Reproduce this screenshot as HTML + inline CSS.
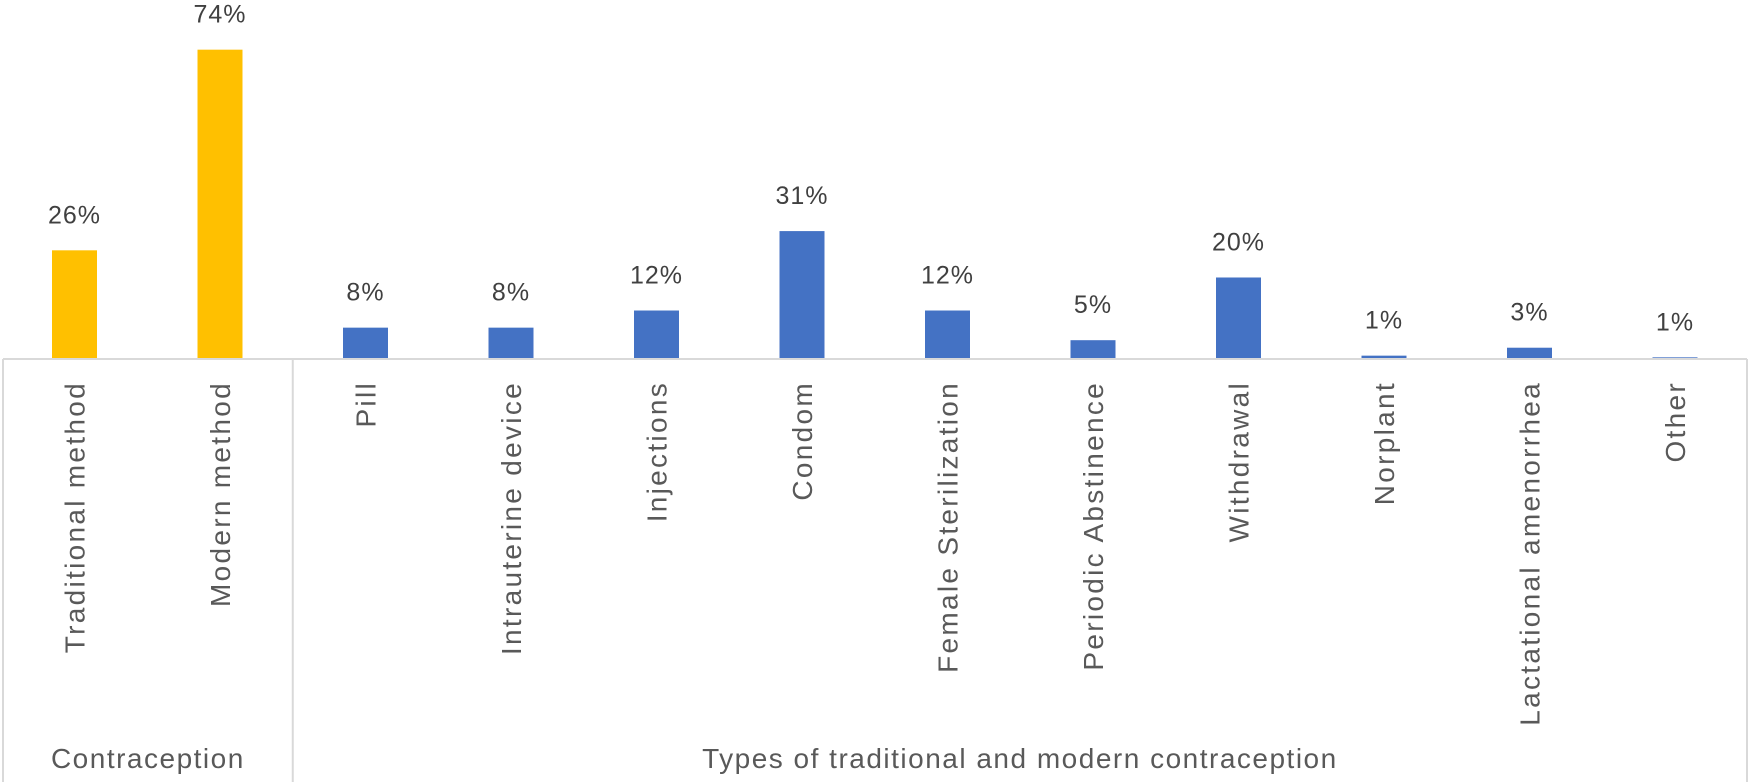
<!DOCTYPE html>
<html><head><meta charset="utf-8"><style>
html,body{margin:0;padding:0;background:#fff;}
svg{display:block;font-family:"Liberation Sans",sans-serif;}
</style></head><body>
<svg id="chart" width="1750" height="782" viewBox="0 0 1750 782" xmlns="http://www.w3.org/2000/svg"></svg>
<script>
const categories = ["Traditional method","Modern method","Pill","Intrauterine device","Injections","Condom","Female Sterilization","Periodic Abstinence","Withdrawal","Norplant","Lactational amenorrhea","Other"];
const values = [26,74,7.5,7.5,11.6,30.6,11.6,4.5,19.5,0.8,2.7,0.4];
const valueLabels = ["26%","74%","8%","8%","12%","31%","12%","5%","20%","1%","3%","1%"];
const groupNames = ["Contraception","Types of traditional and modern contraception"];
const groupSizes = [2,10];

const NS="http://www.w3.org/2000/svg";
const svg=document.getElementById('chart');
const axisY=359, pxPerUnit=4.18, x0=74.5, step=145.5, barW=45;
function xC(i){return x0+i*step;}
function yV(v){return axisY-v*pxPerUnit;}
function mk(tag,attrs,text){const e=document.createElementNS(NS,tag);for(const k in attrs)e.setAttribute(k,attrs[k]);if(text!==undefined)e.textContent=text;svg.appendChild(e);return e;}

categories.forEach((c,i)=>{
  const top=yV(values[i]);
  const r=mk('rect',{x:xC(i)-barW/2,y:top,width:barW,height:axisY-top,fill:i<2?'#FFC000':'#4472C4'});
  
  
  const t=mk('text',{x:xC(i),y:top-27,'text-anchor':'middle','font-size':25,'letter-spacing':1,fill:'#404040'},valueLabels[i]);
  
  
  const l=mk('text',{x:0,y:0,'text-anchor':'end','font-size':28,'letter-spacing':2.3,fill:'#595959',transform:'translate('+(xC(i)+10)+','+(axisY+22)+') rotate(-90)'},c);
  
  
});

const ax=mk('line',{x1:3,y1:axisY,x2:1747,y2:axisY,stroke:'#d9d9d9','stroke-width':2});


let start=0;
const bounds=[3];
groupSizes.forEach((n)=>{start+=n;bounds.push(start<categories.length?xC(start)-step/2:1747);});
bounds.forEach((bx,i)=>{
  const d=mk('line',{x1:bx,y1:axisY,x2:bx,y2:782,stroke:'#d9d9d9','stroke-width':2});
  
  
});
groupNames.forEach((g,i)=>{
  const t=mk('text',{x:(bounds[i]+bounds[i+1])/2,y:768,'text-anchor':'middle','font-size':28,'letter-spacing':1.5,fill:'#595959'},g);
  
  
});
</script>
</body></html>
